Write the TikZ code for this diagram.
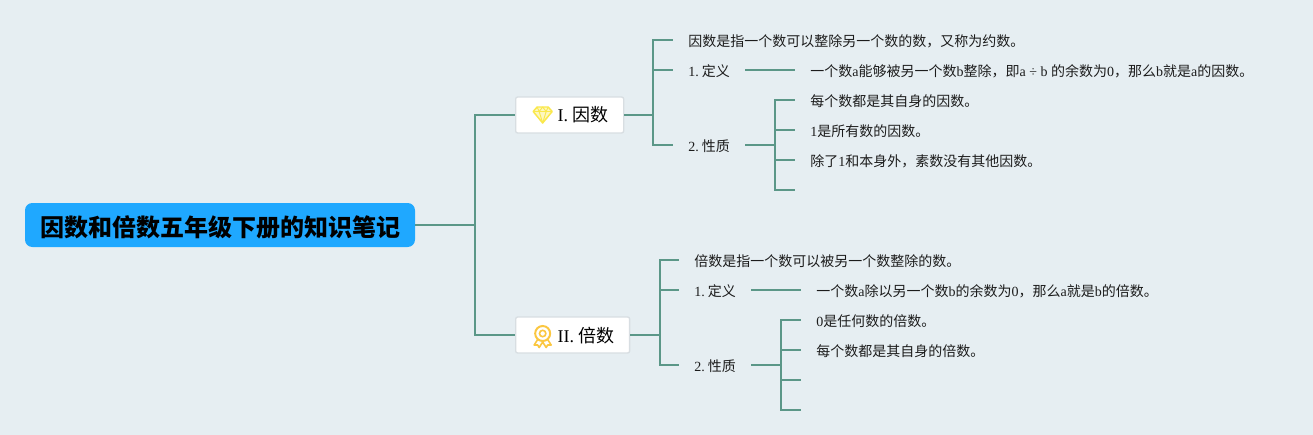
\documentclass[tikz,border=0pt]{standalone}
\usepackage{fontspec}
\setmainfont{Liberation Serif}
\newfontfamily\cjk{Noto Sans CJK SC}
\usetikzlibrary{positioning}
\definecolor{pagebg}{HTML}{E6EEF2}
\definecolor{rootblue}{HTML}{1FA8FF}
\definecolor{linegreen}{HTML}{5B9788}
\definecolor{topicedge}{HTML}{D8DEE2}
\definecolor{gemyellow}{HTML}{FAE84C}
\definecolor{medalgold}{HTML}{FBC741}
\definecolor{inktext}{HTML}{1C1C1C}
\newcommand{\lat}[1]{{\rmfamily #1}}
\tikzset{
  rootbox/.style={rectangle, rounded corners=5.5pt, fill=rootblue, text=black,
    font=\cjk\bfseries\fontsize{18}{20}\selectfont, minimum width=292.5pt,
    minimum height=33pt, inner sep=0pt, text height=19pt, text depth=2.2pt},
  topicbox/.style={rectangle, rounded corners=1.5pt, draw=topicedge, line width=1pt, fill=white,
    text=black, font=\cjk\fontsize{13.5}{16}\selectfont, minimum height=27pt,
    inner xsep=11.25pt, inner ysep=0pt, text height=12pt, text depth=1.5pt},
  leaf/.style={rectangle, text=inktext, font=\cjk\fontsize{10.5}{12}\selectfont,
    inner xsep=11.25pt, inner ysep=0pt, text height=11pt, text depth=1.5pt},
  branch/.style={draw=linegreen, line width=1.5pt},
  gemicon/.pic={
    \draw[gemyellow, line width=1.1pt, line join=round, fill=gemyellow!35]
      (-5.5,-8) -- (5.5,-8) -- (9.5,-3.5) -- (0,8) -- (-9.5,-3.5) -- cycle;
    \draw[gemyellow, line width=0.7pt, line join=round]
      (-9.5,-3.5) -- (9.5,-3.5) (-5.5,-8) -- (-3.5,-3.5) -- (0,8) -- (3.5,-3.5) -- (5.5,-8)
      (-3.5,-3.5) -- (0,-8) -- (3.5,-3.5);
  },
  medalicon/.pic={
    \draw[medalgold, line width=1.2pt, line join=round, fill=white]
      (-4,3) -- (-8.5,10) -- (-5,10) -- (-3.5,12.5) -- (0,7) -- (3.5,12.5) -- (5,10) -- (8.5,10) -- (4,3);
    \draw[medalgold, line width=1.5pt, fill=white] (0,-1.5) circle (7.5);
    \draw[medalgold, line width=1.2pt] (0,-1.5) circle (3.2);
  }
}
\begin{document}
\begin{tikzpicture}[x=0.75pt, y=-0.75pt]
  \fill[pagebg] (0,0) rectangle (1313,435);
  \useasboundingbox (0,0) rectangle (1313,435);
  % root and the two topics
  \node[rootbox] (root) at (220,225) {因数和倍数五年级下册的知识笔记};
  \node[topicbox, anchor=west] (yinshu) at (515,115) {\hspace*{20.25pt}\lat{I. }因数};
  \node[topicbox, below=165pt of yinshu.west, anchor=west] (beishu) {\hspace*{20.25pt}\lat{II. }倍数};
  \pic at ([xshift=20.75pt]yinshu.west) {gemicon};
  \pic at ([xshift=20.75pt]beishu.west) {medalicon};
  % first topic
  \node[leaf, anchor=west] (ameaning) at (673,40) {因数是指一个数可以整除另一个数的数，又称为约数。};
  \node[leaf, below=22.5pt of ameaning.west, anchor=west] (adef) {\lat{1.}\hspace{2.35pt}定义};
  \node[leaf, below=56.25pt of adef.west, anchor=west] (aprop) {\lat{2.}\hspace{2.35pt}性质};
  \node[leaf, right=37.5pt of adef.east, anchor=west] (adeftext) {一个数\lat{a}能够被另一个数\lat{b}整除，即\lat{a ÷ b }的余数为\lat{0}，那么\lat{b}就是\lat{a}的因数。};
  \node[leaf, anchor=west] (apropa) at (795,100) {每个数都是其自身的因数。};
  \node[leaf, below=22.5pt of apropa.west, anchor=west] (apropb) {\lat{1}是所有数的因数。};
  \node[leaf, below=22.5pt of apropb.west, anchor=west] (apropc) {除了\lat{1}和本身外，素数没有其他因数。};
  \coordinate[below=22.5pt of apropc.west] (apropd);
  % second topic
  \node[leaf, anchor=west] (bmeaning) at (679,260) {倍数是指一个数可以被另一个数整除的数。};
  \node[leaf, below=22.5pt of bmeaning.west, anchor=west] (bdef) {\lat{1.}\hspace{2.35pt}定义};
  \node[leaf, below=56.25pt of bdef.west, anchor=west] (bprop) {\lat{2.}\hspace{2.35pt}性质};
  \node[leaf, right=37.5pt of bdef.east, anchor=west] (bdeftext) {一个数\lat{a}除以另一个数\lat{b}的余数为\lat{0}，那么\lat{a}就是\lat{b}的倍数。};
  \node[leaf, anchor=west] (bpropa) at (801,320) {\lat{0}是任何数的倍数。};
  \node[leaf, below=22.5pt of bpropa.west, anchor=west] (bpropb) {每个数都是其自身的倍数。};
  \coordinate[below=22.5pt of bpropb.west] (bpropc);
  \coordinate[below=22.5pt of bpropc] (bpropd);
  % connectors
  \draw[branch] (root.east) -- +(60,0) |- (yinshu.west);
  \draw[branch] (root.east) -- +(60,0) |- (beishu.west);
  \draw[branch] (yinshu.east) -- +(29,0) |- (ameaning.west);
  \draw[branch] (yinshu.east) -- +(29,0) |- (adef.west);
  \draw[branch] (yinshu.east) -- +(29,0) |- (aprop.west);
  \draw[branch] (adef.east) -- (adeftext.west);
  \draw[branch] (aprop.east) -- +(30,0) |- (apropa.west);
  \draw[branch] (aprop.east) -- +(30,0) |- (apropb.west);
  \draw[branch] (aprop.east) -- +(30,0) |- (apropc.west);
  \draw[branch] (aprop.east) -- +(30,0) |- (apropd);
  \draw[branch] (beishu.east) -- +(30,0) |- (bmeaning.west);
  \draw[branch] (beishu.east) -- +(30,0) |- (bdef.west);
  \draw[branch] (beishu.east) -- +(30,0) |- (bprop.west);
  \draw[branch] (bdef.east) -- (bdeftext.west);
  \draw[branch] (bprop.east) -- +(30,0) |- (bpropa.west);
  \draw[branch] (bprop.east) -- +(30,0) |- (bpropb.west);
  \draw[branch] (bprop.east) -- +(30,0) |- (bpropc);
  \draw[branch] (bprop.east) -- +(30,0) |- (bpropd);
\end{tikzpicture}
\end{document}
